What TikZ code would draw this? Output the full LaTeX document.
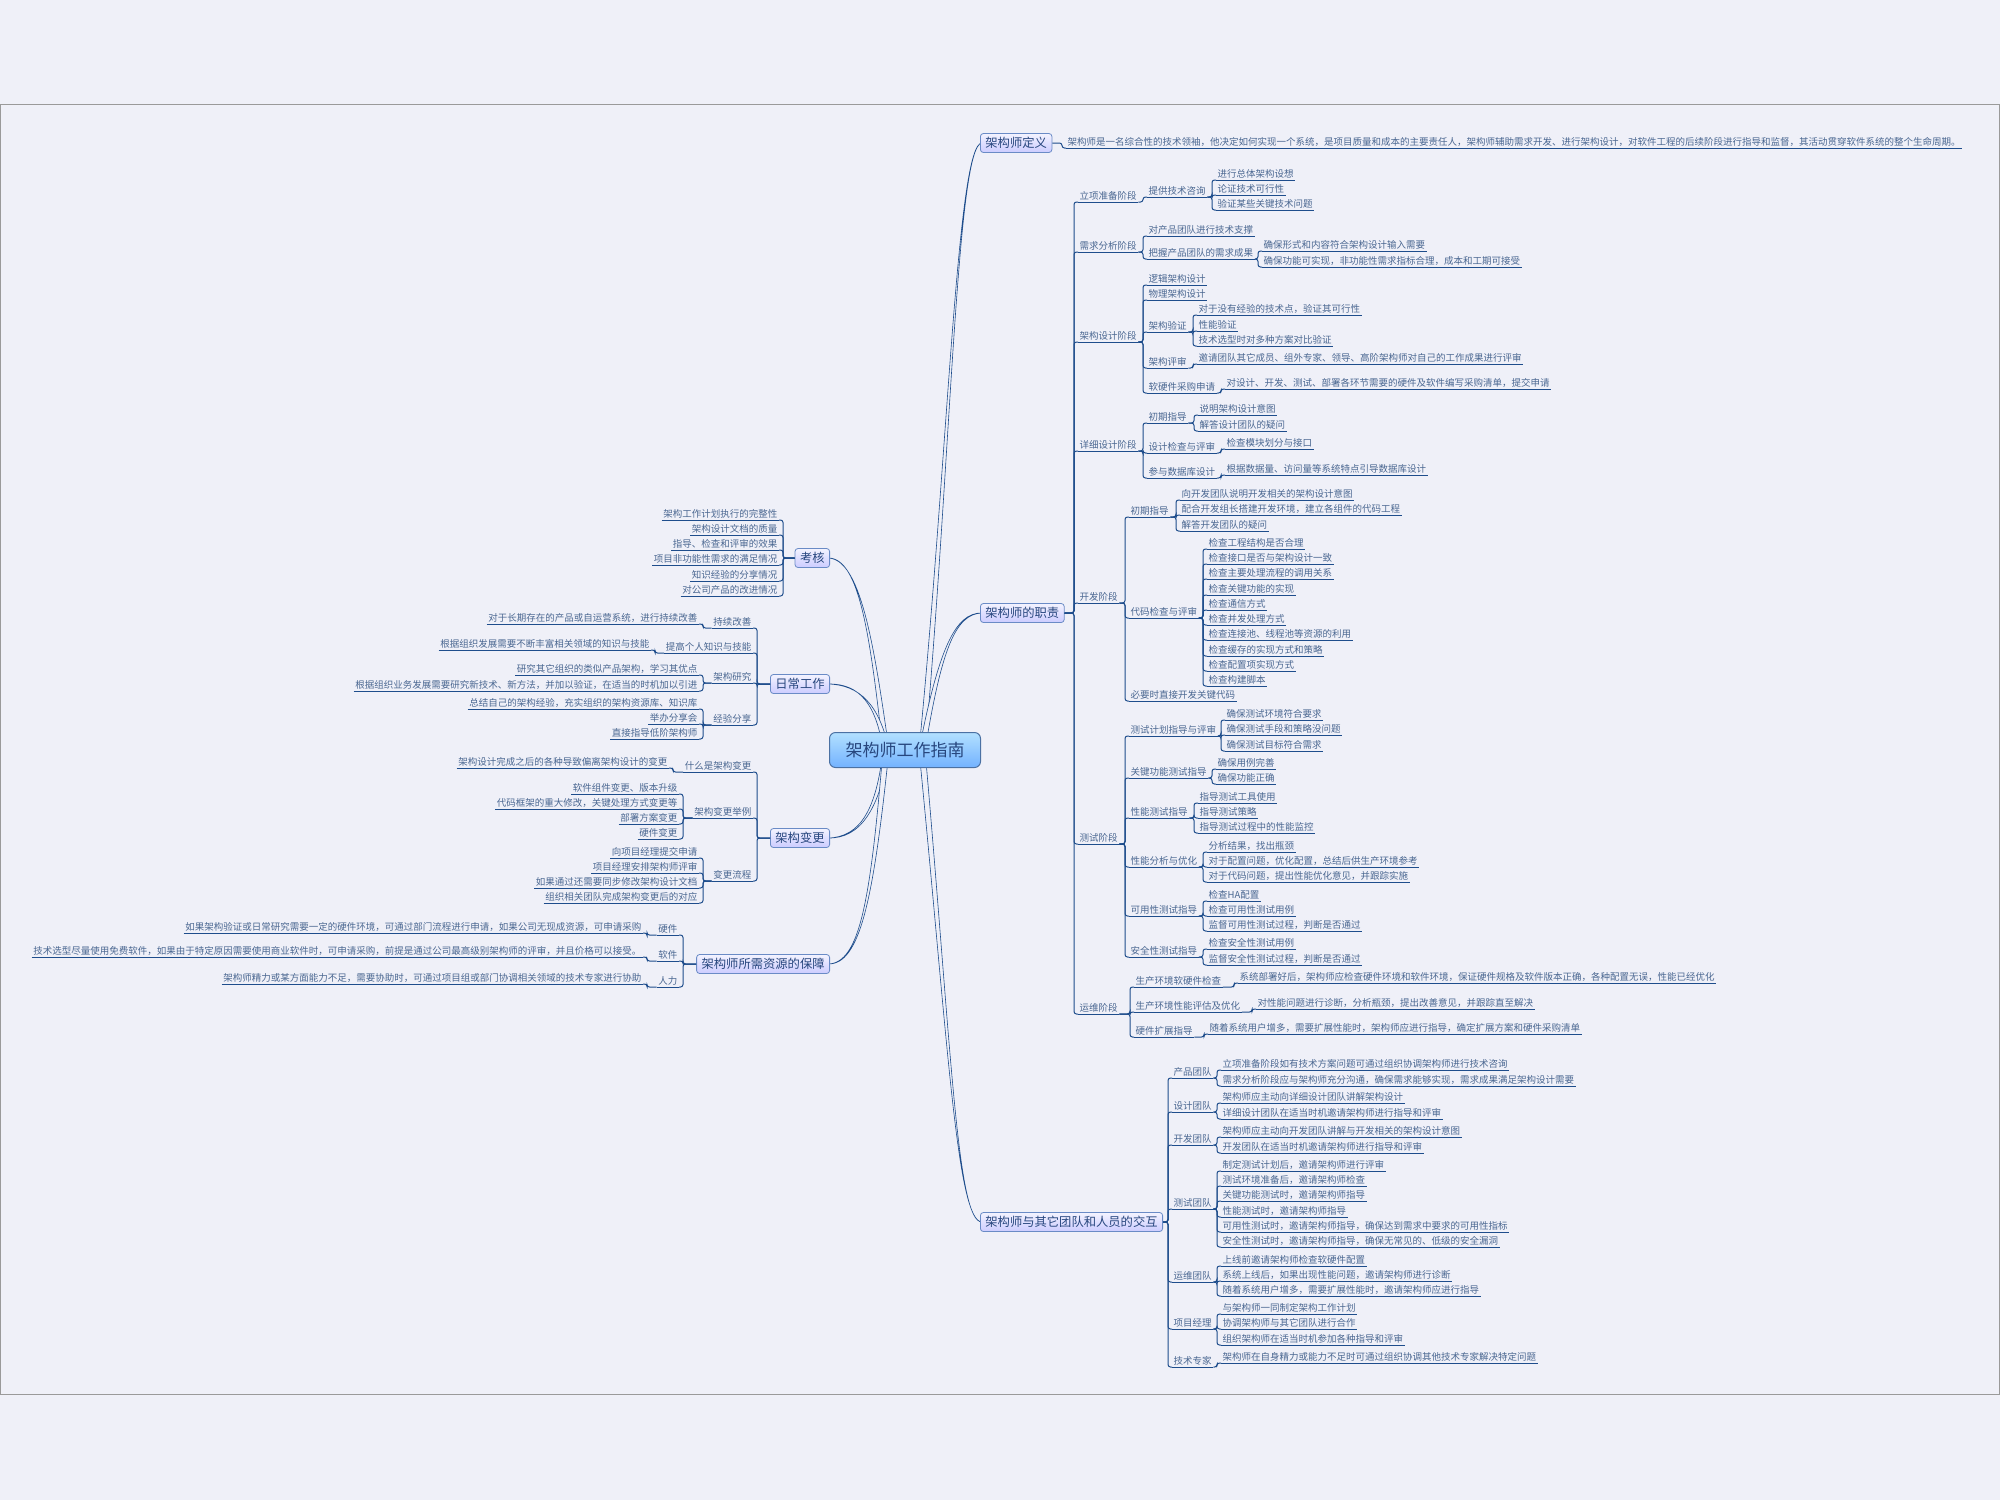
\documentclass[tikz,border=0pt]{standalone}
\usepackage{fontspec}
\setmainfont{Noto Sans CJK SC}
\usetikzlibrary{calc}
\definecolor{bgc}{HTML}{EFF0F8}
\definecolor{lnc}{HTML}{1E4D8C}
\definecolor{txc}{HTML}{4A6791}
\definecolor{bxt}{HTML}{27467E}
\definecolor{bxb}{HTML}{6A8BC6}
\definecolor{frc}{HTML}{9A9A9A}
\tikzset{
  lnk/.style={draw=lnc, line width=1pt},
  txt/.style={font=\fontsize{9.5}{10}\selectfont, text=txc, inner xsep=1.5pt, inner ysep=1.2pt},
  mbox/.style={draw=bxb, line width=0.8pt, rounded corners=3pt, top color=white!60!blue!12, bottom color=blue!20!white, font=\fontsize{12.3}{14}\selectfont, text=bxt, inner xsep=5pt, inner ysep=2pt, minimum height=19pt},
  cbox/.style={draw=lnc!80, line width=1pt, rounded corners=6pt, top color=blue!40!cyan!30!white, bottom color=blue!55!cyan!55!white, font=\fontsize{17}{19}\selectfont, text=bxt, minimum width=151pt, minimum height=35pt},
  taperst/.style={draw=lnc, fill=bgc, line width=0.6pt}
}
\newcommand{\mmR}[4]{\node[txt,anchor=south west] (#1) at (#2,#3) {#4};\draw[lnk] (#1.south west) -- (#1.south east);}
\newcommand{\mmL}[4]{\node[txt,anchor=south east] (#1) at (#2,#3) {#4};\draw[lnk] (#1.south west) -- (#1.south east);}
\newcommand{\ccR}[2]{\draw[lnk,rounded corners=2.5pt] let \p1=(#1), \p2=(#2.south west) in (\p1) -- (\x2-4pt,\y1) -- (\x2-4pt,\y2) -- (\p2);}
\newcommand{\ccL}[2]{\draw[lnk,rounded corners=2.5pt] let \p1=(#1), \p2=(#2.south east) in (\p1) -- (\x2+4pt,\y1) -- (\x2+4pt,\y2) -- (\p2);}
% #1 start x, then controls and end
\newcommand{\taper}[7]{\filldraw[taperst] (#1-3,750) .. controls (#2-1.5,#3) and (#4,#5-0.8) .. (#6,#7) .. controls (#4,#5+0.8) and (#2+1.5,#3) .. (#1+3,750) -- cycle;}
\begin{document}
\begin{tikzpicture}[x=1pt,y=-1pt]
\fill[bgc] (0,0) rectangle (2000,1500);
\useasboundingbox (0,0) rectangle (2000,1500);
\draw[frc, line width=1pt] (0.5,104.5) rectangle (1999.5,1394.5);

% main curved connectors
\taper{922}{950}{450}{957}{143}{982}{143}
\taper{922}{940}{650}{955}{613}{982}{613}
\taper{922}{950}{1050}{957}{1222}{982}{1222}
\taper{886}{872}{640}{860}{558}{828}{558}
\taper{886}{878}{705}{860}{684}{828}{684}
\taper{886}{878}{810}{860}{838}{828}{838}
\taper{886}{872}{900}{860}{964}{828}{964}

\node[cbox] (ctr) at (905,750) {架构师工作指南};

% ===== 架构师定义 =====
\node[mbox,anchor=west] (def) at (980,143) {架构师定义};
\mmR{d1}{1066}{148}{架构师是一名综合性的技术领袖，他决定如何实现一个系统，是项目质量和成本的主要责任人，架构师辅助需求开发、进行架构设计，对软件工程的后续阶段进行指导和监督，其活动贯穿软件系统的整个生命周期。}
\ccR{def.east}{d1}

% ===== 架构师的职责 =====
\node[mbox,anchor=west] (zz) at (980,613) {架构师的职责};
\mmR{s1}{1078}{202}{立项准备阶段}
\mmR{s2}{1078}{252}{需求分析阶段}
\mmR{s3}{1078}{342}{架构设计阶段}
\mmR{s4}{1078}{451}{详细设计阶段}
\mmR{s5}{1078}{603}{开发阶段}
\mmR{s6}{1078}{844}{测试阶段}
\mmR{s7}{1078}{1014}{运维阶段}
\ccR{zz.east}{s1}\ccR{zz.east}{s2}\ccR{zz.east}{s3}\ccR{zz.east}{s4}
\ccR{zz.east}{s5}\ccR{zz.east}{s6}\ccR{zz.east}{s7}

% 立项准备阶段
\mmR{a1}{1147}{197}{提供技术咨询}
\ccR{s1.south east}{a1}
\mmR{a11}{1216}{180}{进行总体架构设想}
\mmR{a12}{1216}{195}{论证技术可行性}
\mmR{a13}{1216}{210}{验证某些关键技术问题}
\ccR{a1.south east}{a11}\ccR{a1.south east}{a12}\ccR{a1.south east}{a13}

% 需求分析阶段
\mmR{b1}{1147}{236}{对产品团队进行技术支撑}
\mmR{b2}{1147}{259}{把握产品团队的需求成果}
\ccR{s2.south east}{b1}\ccR{s2.south east}{b2}
\mmR{b21}{1262}{251}{确保形式和内容符合架构设计输入需要}
\mmR{b22}{1262}{267}{确保功能可实现，非功能性需求指标合理，成本和工期可接受}
\ccR{b2.south east}{b21}\ccR{b2.south east}{b22}

% 架构设计阶段
\mmR{c1}{1147}{285}{逻辑架构设计}
\mmR{c2}{1147}{300}{物理架构设计}
\mmR{c3}{1147}{332}{架构验证}
\mmR{c4}{1147}{368}{架构评审}
\mmR{c5}{1147}{393}{软硬件采购申请}
\ccR{s3.south east}{c1}\ccR{s3.south east}{c2}\ccR{s3.south east}{c3}\ccR{s3.south east}{c4}\ccR{s3.south east}{c5}
\mmR{c31}{1197}{315}{对于没有经验的技术点，验证其可行性}
\mmR{c32}{1197}{331}{性能验证}
\mmR{c33}{1197}{346}{技术选型时对多种方案对比验证}
\ccR{c3.south east}{c31}\ccR{c3.south east}{c32}\ccR{c3.south east}{c33}
\mmR{c41}{1197}{364}{邀请团队其它成员、组外专家、领导、高阶架构师对自己的工作成果进行评审}
\ccR{c4.south east}{c41}
\mmR{c51}{1225}{389}{对设计、开发、测试、部署各环节需要的硬件及软件编写采购清单，提交申请}
\ccR{c5.south east}{c51}

% 详细设计阶段
\mmR{e1}{1147}{423}{初期指导}
\mmR{e2}{1147}{453}{设计检查与评审}
\mmR{e3}{1147}{478}{参与数据库设计}
\ccR{s4.south east}{e1}\ccR{s4.south east}{e2}\ccR{s4.south east}{e3}
\mmR{e11}{1198}{415}{说明架构设计意图}
\mmR{e12}{1198}{431}{解答设计团队的疑问}
\ccR{e1.south east}{e11}\ccR{e1.south east}{e12}
\mmR{e21}{1225}{449}{检查模块划分与接口}
\ccR{e2.south east}{e21}
\mmR{e31}{1225}{475}{根据数据量、访问量等系统特点引导数据库设计}
\ccR{e3.south east}{e31}

% 开发阶段
\mmR{f1}{1129}{517}{初期指导}
\mmR{f2}{1129}{618}{代码检查与评审}
\mmR{f3}{1129}{701}{必要时直接开发关键代码}
\ccR{s5.south east}{f1}\ccR{s5.south east}{f2}\ccR{s5.south east}{f3}
\mmR{f11}{1180}{500}{向开发团队说明开发相关的架构设计意图}
\mmR{f12}{1180}{515}{配合开发组长搭建开发环境，建立各组件的代码工程}
\mmR{f13}{1180}{531}{解答开发团队的疑问}
\ccR{f1.south east}{f11}\ccR{f1.south east}{f12}\ccR{f1.south east}{f13}
\mmR{f21}{1207}{549}{检查工程结构是否合理}
\mmR{f22}{1207}{564}{检查接口是否与架构设计一致}
\mmR{f23}{1207}{579}{检查主要处理流程的调用关系}
\mmR{f24}{1207}{595}{检查关键功能的实现}
\mmR{f25}{1207}{610}{检查通信方式}
\mmR{f26}{1207}{625}{检查并发处理方式}
\mmR{f27}{1207}{640}{检查连接池、线程池等资源的利用}
\mmR{f28}{1207}{656}{检查缓存的实现方式和策略}
\mmR{f29}{1207}{671}{检查配置项实现方式}
\mmR{f2a}{1207}{686}{检查构建脚本}
\ccR{f2.south east}{f21}\ccR{f2.south east}{f22}\ccR{f2.south east}{f23}\ccR{f2.south east}{f24}\ccR{f2.south east}{f25}
\ccR{f2.south east}{f26}\ccR{f2.south east}{f27}\ccR{f2.south east}{f28}\ccR{f2.south east}{f29}\ccR{f2.south east}{f2a}

% 测试阶段
\mmR{g1}{1129}{736}{测试计划指导与评审}
\mmR{g2}{1129}{778}{关键功能测试指导}
\mmR{g3}{1129}{818}{性能测试指导}
\mmR{g4}{1129}{867}{性能分析与优化}
\mmR{g5}{1129}{916}{可用性测试指导}
\mmR{g6}{1129}{957}{安全性测试指导}
\ccR{s6.south east}{g1}\ccR{s6.south east}{g2}\ccR{s6.south east}{g3}\ccR{s6.south east}{g4}\ccR{s6.south east}{g5}\ccR{s6.south east}{g6}
\mmR{g11}{1225}{720}{确保测试环境符合要求}
\mmR{g12}{1225}{735}{确保测试手段和策略没问题}
\mmR{g13}{1225}{751}{确保测试目标符合需求}
\ccR{g1.south east}{g11}\ccR{g1.south east}{g12}\ccR{g1.south east}{g13}
\mmR{g21}{1216}{769}{确保用例完善}
\mmR{g22}{1216}{784}{确保功能正确}
\ccR{g2.south east}{g21}\ccR{g2.south east}{g22}
\mmR{g31}{1198}{803}{指导测试工具使用}
\mmR{g32}{1198}{818}{指导测试策略}
\mmR{g33}{1198}{833}{指导测试过程中的性能监控}
\ccR{g3.south east}{g31}\ccR{g3.south east}{g32}\ccR{g3.south east}{g33}
\mmR{g41}{1207}{852}{分析结果，找出瓶颈}
\mmR{g42}{1207}{867}{对于配置问题，优化配置，总结后供生产环境参考}
\mmR{g43}{1207}{882}{对于代码问题，提出性能优化意见，并跟踪实施}
\ccR{g4.south east}{g41}\ccR{g4.south east}{g42}\ccR{g4.south east}{g43}
\mmR{g51}{1207}{901}{检查HA配置}
\mmR{g52}{1207}{916}{检查可用性测试用例}
\mmR{g53}{1207}{931}{监督可用性测试过程，判断是否通过}
\ccR{g5.south east}{g51}\ccR{g5.south east}{g52}\ccR{g5.south east}{g53}
\mmR{g61}{1207}{949}{检查安全性测试用例}
\mmR{g62}{1207}{965}{监督安全性测试过程，判断是否通过}
\ccR{g6.south east}{g61}\ccR{g6.south east}{g62}

% 运维阶段
\mmR{h1}{1134}{987}{生产环境软硬件检查}
\mmR{h2}{1134}{1012}{生产环境性能评估及优化}
\mmR{h3}{1134}{1037}{硬件扩展指导}
\ccR{s7.south east}{h1}\ccR{s7.south east}{h2}\ccR{s7.south east}{h3}
\mmR{h11}{1238}{983}{系统部署好后，架构师应检查硬件环境和软件环境，保证硬件规格及软件版本正确，各种配置无误，性能已经优化}
\ccR{h1.south east}{h11}
\mmR{h21}{1256}{1009}{对性能问题进行诊断，分析瓶颈，提出改善意见，并跟踪直至解决}
\ccR{h2.south east}{h21}
\mmR{h31}{1208}{1034}{随着系统用户增多，需要扩展性能时，架构师应进行指导，确定扩展方案和硬件采购清单}
\ccR{h3.south east}{h31}

% ===== 架构师与其它团队和人员的交互 =====
\node[mbox,anchor=west] (jh) at (980,1222) {架构师与其它团队和人员的交互};
\mmR{t1}{1172}{1078}{产品团队}
\mmR{t2}{1172}{1112}{设计团队}
\mmR{t3}{1172}{1145}{开发团队}
\mmR{t4}{1172}{1209}{测试团队}
\mmR{t5}{1172}{1282}{运维团队}
\mmR{t6}{1172}{1329}{项目经理}
\mmR{t7}{1172}{1367}{技术专家}
\ccR{jh.east}{t1}\ccR{jh.east}{t2}\ccR{jh.east}{t3}\ccR{jh.east}{t4}\ccR{jh.east}{t5}\ccR{jh.east}{t6}\ccR{jh.east}{t7}
\mmR{t11}{1221}{1070}{立项准备阶段如有技术方案问题可通过组织协调架构师进行技术咨询}
\mmR{t12}{1221}{1086}{需求分析阶段应与架构师充分沟通，确保需求能够实现，需求成果满足架构设计需要}
\ccR{t1.south east}{t11}\ccR{t1.south east}{t12}
\mmR{t21}{1221}{1103}{架构师应主动向详细设计团队讲解架构设计}
\mmR{t22}{1221}{1119}{详细设计团队在适当时机邀请架构师进行指导和评审}
\ccR{t2.south east}{t21}\ccR{t2.south east}{t22}
\mmR{t31}{1221}{1137}{架构师应主动向开发团队讲解与开发相关的架构设计意图}
\mmR{t32}{1221}{1153}{开发团队在适当时机邀请架构师进行指导和评审}
\ccR{t3.south east}{t31}\ccR{t3.south east}{t32}
\mmR{t41}{1221}{1171}{制定测试计划后，邀请架构师进行评审}
\mmR{t42}{1221}{1186}{测试环境准备后，邀请架构师检查}
\mmR{t43}{1221}{1201}{关键功能测试时，邀请架构师指导}
\mmR{t44}{1221}{1217}{性能测试时，邀请架构师指导}
\mmR{t45}{1221}{1232}{可用性测试时，邀请架构师指导，确保达到需求中要求的可用性指标}
\mmR{t46}{1221}{1247}{安全性测试时，邀请架构师指导，确保无常见的、低级的安全漏洞}
\ccR{t4.south east}{t41}\ccR{t4.south east}{t42}\ccR{t4.south east}{t43}\ccR{t4.south east}{t44}\ccR{t4.south east}{t45}\ccR{t4.south east}{t46}
\mmR{t51}{1221}{1266}{上线前邀请架构师检查软硬件配置}
\mmR{t52}{1221}{1281}{系统上线后，如果出现性能问题，邀请架构师进行诊断}
\mmR{t53}{1221}{1296}{随着系统用户增多，需要扩展性能时，邀请架构师应进行指导}
\ccR{t5.south east}{t51}\ccR{t5.south east}{t52}\ccR{t5.south east}{t53}
\mmR{t61}{1221}{1314}{与架构师一同制定架构工作计划}
\mmR{t62}{1221}{1329}{协调架构师与其它团队进行合作}
\mmR{t63}{1221}{1345}{组织架构师在适当时机参加各种指导和评审}
\ccR{t6.south east}{t61}\ccR{t6.south east}{t62}\ccR{t6.south east}{t63}
\mmR{t71}{1221}{1363}{架构师在自身精力或能力不足时可通过组织协调其他技术专家解决特定问题}
\ccR{t7.south east}{t71}

% ===== 考核 =====
\node[mbox,anchor=east] (kh) at (830,558) {考核};
\mmL{k1}{779}{520}{架构工作计划执行的完整性}
\mmL{k2}{779}{535}{架构设计文档的质量}
\mmL{k3}{779}{550}{指导、检查和评审的效果}
\mmL{k4}{779}{565}{项目非功能性需求的满足情况}
\mmL{k5}{779}{581}{知识经验的分享情况}
\mmL{k6}{779}{596}{对公司产品的改进情况}
\ccL{kh.west}{k1}\ccL{kh.west}{k2}\ccL{kh.west}{k3}\ccL{kh.west}{k4}\ccL{kh.west}{k5}\ccL{kh.west}{k6}

% ===== 日常工作 =====
\node[mbox,anchor=east] (rc) at (830,684) {日常工作};
\mmL{r1}{753}{628}{持续改善}
\mmL{r2}{753}{653}{提高个人知识与技能}
\mmL{r3}{753}{683}{架构研究}
\mmL{r4}{753}{725}{经验分享}
\ccL{rc.west}{r1}\ccL{rc.west}{r2}\ccL{rc.west}{r3}\ccL{rc.west}{r4}
\mmL{r11}{699}{624}{对于长期存在的产品或自运营系统，进行持续改善}
\ccL{r1.south west}{r11}
\mmL{r21}{651}{650}{根据组织发展需要不断丰富相关领域的知识与技能}
\ccL{r2.south west}{r21}
\mmL{r31}{699}{675}{研究其它组织的类似产品架构，学习其优点}
\mmL{r32}{699}{691}{根据组织业务发展需要研究新技术、新方法，并加以验证，在适当的时机加以引进}
\ccL{r3.south west}{r31}\ccL{r3.south west}{r32}
\mmL{r41}{699}{709}{总结自己的架构经验，充实组织的架构资源库、知识库}
\mmL{r42}{699}{724}{举办分享会}
\mmL{r43}{699}{739}{直接指导低阶架构师}
\ccL{r4.south west}{r41}\ccL{r4.south west}{r42}\ccL{r4.south west}{r43}

% ===== 架构变更 =====
\node[mbox,anchor=east] (jb) at (830,838) {架构变更};
\mmL{v1}{753}{772}{什么是架构变更}
\mmL{v2}{753}{818}{架构变更举例}
\mmL{v3}{753}{881}{变更流程}
\ccL{jb.west}{v1}\ccL{jb.west}{v2}\ccL{jb.west}{v3}
\mmL{v11}{669}{768}{架构设计完成之后的各种导致偏离架构设计的变更}
\ccL{v1.south west}{v11}
\mmL{v21}{679}{794}{软件组件变更、版本升级}
\mmL{v22}{679}{809}{代码框架的重大修改，关键处理方式变更等}
\mmL{v23}{679}{824}{部署方案变更}
\mmL{v24}{679}{839}{硬件变更}
\ccL{v2.south west}{v21}\ccL{v2.south west}{v22}\ccL{v2.south west}{v23}\ccL{v2.south west}{v24}
\mmL{v31}{699}{858}{向项目经理提交申请}
\mmL{v32}{699}{873}{项目经理安排架构师评审}
\mmL{v33}{699}{888}{如果通过还需要同步修改架构设计文档}
\mmL{v34}{699}{903}{组织相关团队完成架构变更后的对应}
\ccL{v3.south west}{v31}\ccL{v3.south west}{v32}\ccL{v3.south west}{v33}\ccL{v3.south west}{v34}

% ===== 架构师所需资源的保障 =====
\node[mbox,anchor=east] (zy) at (830,964) {架构师所需资源的保障};
\mmL{w1}{679}{935}{硬件}
\mmL{w2}{679}{961}{软件}
\mmL{w3}{679}{987}{人力}
\ccL{zy.west}{w1}\ccL{zy.west}{w2}\ccL{zy.west}{w3}
\mmL{w11}{643}{933}{如果架构验证或日常研究需要一定的硬件环境，可通过部门流程进行申请，如果公司无现成资源，可申请采购}
\ccL{w1.south west}{w11}
\mmL{w21}{643}{957}{技术选型尽量使用免费软件，如果由于特定原因需要使用商业软件时，可申请采购，前提是通过公司最高级别架构师的评审，并且价格可以接受。}
\ccL{w2.south west}{w21}
\mmL{w31}{643}{984}{架构师精力或某方面能力不足，需要协助时，可通过项目组或部门协调相关领域的技术专家进行协助}
\ccL{w3.south west}{w31}
\end{tikzpicture}
\end{document}
